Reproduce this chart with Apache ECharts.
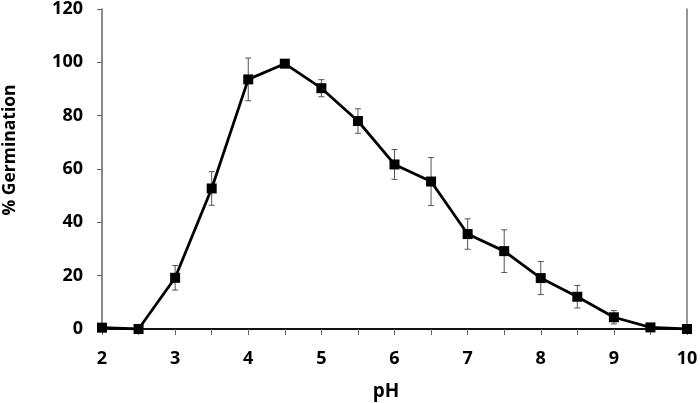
<!DOCTYPE html>
<html><head><meta charset="utf-8">
<script src="https://cdn.jsdelivr.net/npm/echarts@6/dist/echarts.min.js"></script>
<style>html,body{margin:0;padding:0;background:#fff}#c{width:700px;height:403px}</style>
</head><body><div id="c"></div>
<script>
const pH = [2, 2.5, 3, 3.5, 4, 4.5, 5, 5.5, 6, 6.5, 7, 7.5, 8, 8.5, 9, 9.5, 10];
const germination = [0.5, 0, 19.2, 52.7, 93.6, 99.5, 90.3, 78.0, 61.7, 55.3, 35.6, 29.2, 19.1, 12.1, 4.4, 0.6, 0];
const errorSD = [0, 0, 4.6, 6.3, 8.0, 1.0, 3.2, 4.6, 5.6, 9.0, 5.7, 8.0, 6.2, 4.2, 2.5, 0.3, 0];
const yTicks = [0, 20, 40, 60, 80, 100, 120];

const font = '"Open Sans", "Liberation Sans", sans-serif';
const lineData = pH.map((x, i) => [x, germination[i]]);
const errData = pH.map((x, i) => [x, germination[i] - errorSD[i], germination[i] + errorSD[i]]);

const chart = echarts.init(document.getElementById('c'));
chart.setOption({
  animation: false,
  grid: { left: 102, right: 13, top: 9, bottom: 74, show: false, containLabel: false, outerBoundsMode: 'none' },
  xAxis: [{
    type: 'value', min: 2, max: 10, interval: 0.5,
    name: 'pH', nameLocation: 'middle', nameGap: 53,
    nameTextStyle: { fontFamily: font, fontWeight: 'bold', fontSize: 19, color: '#000', padding: [0, 17, 0, 0] },
    axisLine: { lineStyle: { color: '#666', width: 1.5 } },
    axisTick: { show: true, length: 6, lineStyle: { color: '#666' } },
    axisLabel: { fontFamily: font, fontWeight: 'bold', fontSize: 18, color: '#000', margin: 21,
      formatter: v => (Math.abs(v - Math.round(v)) < 1e-6 ? String(Math.round(v)) : '') },
    splitLine: { show: false }
  }, {
    type: 'value', min: 2, max: 10, position: 'top',
    axisLine: { show: true, lineStyle: { color: '#111', width: 2 } },
    axisTick: { show: false }, axisLabel: { show: false }, splitLine: { show: false }
  }],
  yAxis: [{
    type: 'value', min: 0, max: 120, interval: 20,
    name: '% Germination', nameLocation: 'middle', nameGap: 82.5,
    nameTextStyle: { fontFamily: font, fontWeight: 'bold', fontSize: 17.5, color: '#000', padding: [0, 0, 0, 38] },
    axisLine: { show: true, lineStyle: { color: '#666', width: 1.5 } },
    axisTick: { show: true, length: 5, lineStyle: { color: '#666' } },
    axisLabel: { fontFamily: font, fontWeight: 'bold', fontSize: 18, color: '#000', margin: 19,
      formatter: v => (yTicks.includes(v) ? String(v) : '') },
    splitLine: { show: false }
  }, {
    type: 'value', min: 0, max: 120, position: 'right',
    axisLine: { show: true, lineStyle: { color: '#777', width: 1.5 } },
    axisTick: { show: false }, axisLabel: { show: false }, splitLine: { show: false }
  }],
  series: [{
    type: 'custom',
    data: errData,
    z: 1,
    renderItem: function (params, api) {
      const x = api.value(0);
      const lo = api.coord([x, api.value(1)]);
      const hi = api.coord([x, api.value(2)]);
      const w = 3;
      const st = { stroke: '#555', lineWidth: 1 };
      return { type: 'group', children: [
        { type: 'line', shape: { x1: lo[0], y1: lo[1], x2: hi[0], y2: hi[1] }, style: st },
        { type: 'line', shape: { x1: lo[0] - w, y1: lo[1], x2: lo[0] + w, y2: lo[1] }, style: st },
        { type: 'line', shape: { x1: hi[0] - w, y1: hi[1], x2: hi[0] + w, y2: hi[1] }, style: st }
      ] };
    }
  }, {
    type: 'line',
    data: lineData,
    z: 3,
    symbol: 'rect', symbolSize: 10,
    itemStyle: { color: '#000' },
    lineStyle: { color: '#000', width: 2.8 }
  }]
});
</script></body></html>
